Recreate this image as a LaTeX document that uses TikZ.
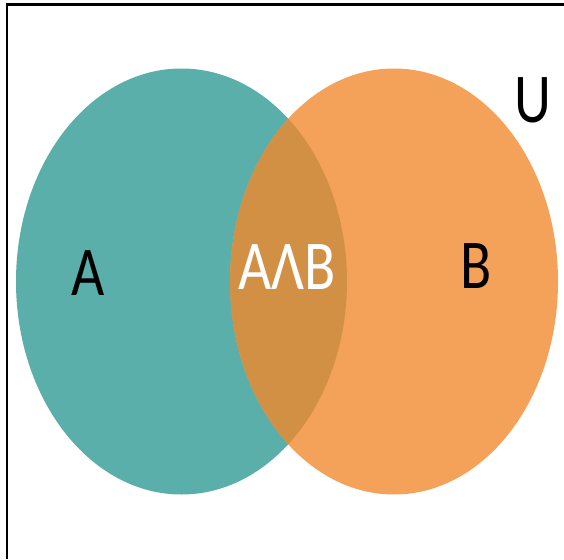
\documentclass[tikz,border=0pt]{standalone}
\usepackage{fontspec}
\setmainfont{Carlito}
\begin{document}
\begin{tikzpicture}[x=1pt,y=-1pt,
  setlabel/.style={font=\fontsize{70}{70}\selectfont, inner sep=0pt, xscale=0.82, transform shape},
  frameline/.style={line width=2.4pt, black}]
  \definecolor{tealA}{HTML}{5AAFAA}
  \definecolor{orangeB}{HTML}{F4A259}
  \definecolor{overlapAB}{HTML}{D29045}
  % canvas
  \useasboundingbox (0,0) rectangle (564,559);
  \fill[white] (0,0) rectangle (564,559);
  % partial frame: top and left edges
  \draw[frameline] (7,559) -- (7,4.5) -- (564,4.5);
  % the two sets
  \fill[tealA] (181.5,281.5) ellipse [x radius=165.5, y radius=213];
  \fill[orangeB] (394,281.5) ellipse [x radius=164, y radius=213];
  % their intersection
  \begin{scope}
    \clip (181.5,281.5) ellipse [x radius=165.5, y radius=213];
    \fill[overlapAB] (394,281.5) ellipse [x radius=164, y radius=213];
  \end{scope}
  % labels
  \node[setlabel] (labA) at (88,273) {A};
  \node[setlabel] (labB) at (476,266) {B};
  \node[setlabel, text=white] (labAB) at (287,267) {AΛB};
  \node[setlabel] (labU) at (533,100) {U};
\end{tikzpicture}
\end{document}
